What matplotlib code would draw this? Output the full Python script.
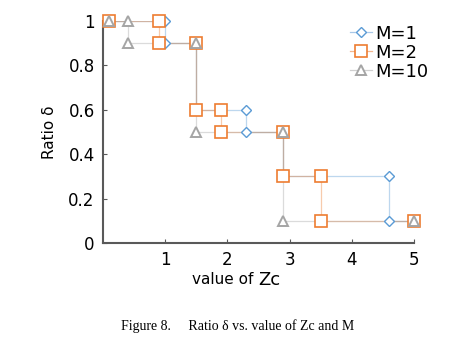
import numpy as np
import matplotlib.pyplot as plt

# step curves
zc_m1 = [0.1, 1.0, 1.0, 1.5, 1.5, 2.3, 2.3, 2.9, 2.9, 4.6, 4.6, 5.0]
r_m1 = [1.0, 1.0, 0.9, 0.9, 0.6, 0.6, 0.5, 0.5, 0.3, 0.3, 0.1, 0.1]
zc_m2 = [0.1, 0.9, 0.9, 1.5, 1.5, 1.9, 1.9, 2.9, 2.9, 3.5, 3.5, 5.0]
r_m2 = [1.0, 1.0, 0.9, 0.9, 0.6, 0.6, 0.5, 0.5, 0.3, 0.3, 0.1, 0.1]
zc_m10 = [0.1, 0.4, 0.4, 1.5, 1.5, 2.9, 2.9, 5.0]
r_m10 = [1.0, 1.0, 0.9, 0.9, 0.5, 0.5, 0.1, 0.1]

labels = ['M=1', 'M=2', 'M=10']
blue = '#5B9BD5'
orange = '#ED7D31'
gray = '#A5A5A5'

fig = plt.figure(figsize=(4.52, 3.53), dpi=100)
ax = fig.add_axes([103 / 452, 1 - 243 / 353, 311 / 452, 222 / 353])

ax.plot(zc_m1, r_m1, color=blue, alpha=0.4, lw=0.9, zorder=1)
ax.plot(zc_m2, r_m2, color=orange, alpha=0.4, lw=0.9, zorder=1)
ax.plot(zc_m10, r_m10, color=gray, alpha=0.4, lw=0.9, zorder=1)
ax.plot(zc_m1, r_m1, ls='none', marker='D', ms=5.5, mfc='white', mec=blue,
        mew=1.0, clip_on=False, zorder=3)
ax.plot(zc_m2, r_m2, ls='none', marker='s', ms=8.5, mfc='white', mec=orange,
        mew=1.2, clip_on=False, zorder=4)
ax.plot(zc_m10, r_m10, ls='none', marker='^', ms=7, mfc='white', mec=gray,
        mew=1.4, clip_on=False, zorder=5)

# legend handles
h1, = ax.plot([], [], color='#A9C8E8', marker='D', ms=5.5, mfc='white', mec=blue, mew=1.0, lw=0.9)
h2, = ax.plot([], [], color='#F3B68E', marker='s', ms=8.5, mfc='white', mec=orange, mew=1.2, lw=0.9)
h3, = ax.plot([], [], color='#D0D0D0', marker='^', ms=7, mfc='white', mec=gray, mew=1.4, lw=0.9)
leg = ax.legend([h1, h2, h3], labels, loc='upper left', bbox_to_anchor=(0.755, 1.04),
                frameon=False, fontsize=13, handlelength=1.2, handletextpad=0.2,
                labelspacing=0.05, borderpad=0.2)

ax.set_xlim(0, 5)
ax.set_ylim(0, 1)
ax.set_xticks([1, 2, 3, 4, 5])
ax.set_yticks([0, 0.2, 0.4, 0.6, 0.8, 1])
ax.set_yticklabels(['0', '0.2', '0.4', '0.6', '0.8', '1'])
ax.spines['top'].set_visible(False)
ax.spines['right'].set_visible(False)
for s in ('left', 'bottom'):
    ax.spines[s].set_color('#595959')
    ax.spines[s].set_linewidth(1.5)
ax.tick_params(direction='in', length=3, width=0.8, colors='#595959',
               labelcolor='black', labelsize=12, pad=6)

ax.set_ylabel('Ratio δ', fontsize=11, labelpad=8)
fig.text((103 + 414) / 2 / 452, 1 - 280 / 353, 'value of ', fontsize=11,
         ha='right', va='center')
fig.text((103 + 414) / 2 / 452, 1 - 280 / 353, 'Zc', fontsize=13,
         ha='left', va='center')

fig.text(238 / 452, 1 - 326 / 353, 'Figure 8.     Ratio δ vs. value of Zc and M',
         family='Liberation Serif', fontsize=10, ha='center', va='center')

fig.savefig('out.png', dpi=100)
